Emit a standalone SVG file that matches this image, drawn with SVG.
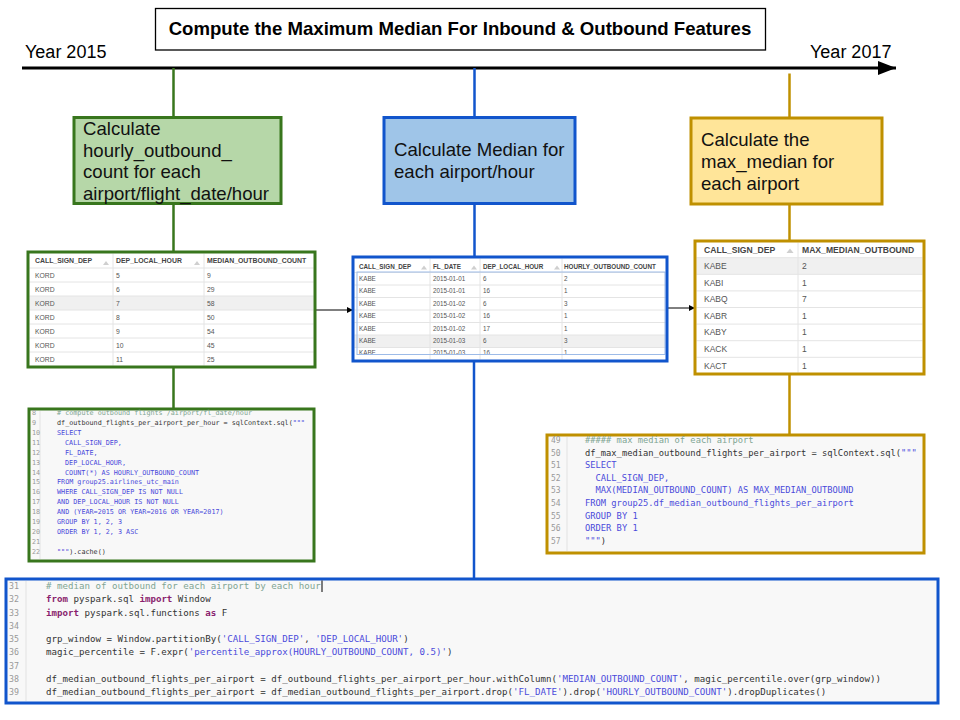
<svg xmlns="http://www.w3.org/2000/svg" width="960" height="720" viewBox="0 0 960 720">
<style>
.lbl{font-family:"Liberation Sans",Arial,sans-serif;fill:#000}
.node{font-family:"Liberation Sans",Arial,sans-serif;font-size:18.6px;fill:#111}
.th{font-family:"Liberation Sans",Arial,sans-serif;font-weight:bold;fill:#444}
.td{font-family:"Liberation Sans",Arial,sans-serif;fill:#555}
.sep{stroke:#e4e4e4;stroke-width:1}
.tri{fill:#cfcfcf}
.hl{fill:#f0f0f0}
.code{font-family:"DejaVu Sans Mono","Liberation Mono",monospace;fill:#333}
.ln{fill:#999}
.cm{fill:#7fa593}
.kw{fill:#4b4bdb}
.st{fill:#4b4bdb}
.py{fill:#8a1f6e;font-weight:bold}
.gut{stroke:#e2e2e2;stroke-width:1}
.g{stroke:#38761d}
.b{stroke:#1155cc}
.y{stroke:#bf9000}
</style>
<defs>
<marker id="bigarrow" markerUnits="userSpaceOnUse" markerWidth="20" markerHeight="16" refX="18" refY="7" orient="auto"><path d="M0,0 L18,7 L0,14 Z" fill="#000"/></marker>
<marker id="smallarrow" markerUnits="userSpaceOnUse" markerWidth="8" markerHeight="8" refX="6" refY="3" orient="auto"><path d="M0,0 L6,3 L0,6 Z" fill="#000"/></marker>
<clipPath id="c1"><rect x="29.5" y="253.5" width="284" height="112"/></clipPath>
<clipPath id="c2"><rect x="354.5" y="258.5" width="311" height="101"/></clipPath>
<clipPath id="c3"><rect x="696.5" y="242.5" width="226" height="130"/></clipPath>
</defs>
<rect width="960" height="720" fill="#fff"/>

<g id="connectors" fill="none">
<line x1="22" y1="68" x2="896" y2="68" stroke="#000" stroke-width="3" marker-end="url(#bigarrow)"/>
<line class="g" x1="173.5" y1="68" x2="173.5" y2="118" stroke-width="2.5"/>
<line class="g" x1="173.5" y1="204" x2="173.5" y2="252" stroke-width="2.5"/>
<line class="g" x1="173.5" y1="367" x2="173.5" y2="409" stroke-width="2.5"/>
<line class="b" x1="474.5" y1="68" x2="474.5" y2="118" stroke-width="2.5"/>
<line class="b" x1="474.5" y1="204" x2="474.5" y2="257" stroke-width="2.5"/>
<line class="b" x1="474" y1="361" x2="474" y2="579" stroke-width="2.5"/>
<line class="y" x1="789.5" y1="73.5" x2="789.5" y2="118" stroke-width="2.5"/>
<line class="y" x1="789.5" y1="204" x2="789.5" y2="241" stroke-width="2.5"/>
<line class="y" x1="789.5" y1="374" x2="789.5" y2="435" stroke-width="2.5"/>
<line x1="315" y1="310" x2="353" y2="310" stroke="#000" stroke-width="1" marker-end="url(#smallarrow)"/>
<line x1="667" y1="308" x2="695" y2="308" stroke="#000" stroke-width="1" marker-end="url(#smallarrow)"/>
</g>

<g id="title">
<rect x="155.5" y="8.5" width="610" height="41.5" fill="#fff" stroke="#000" stroke-width="1.3"/>
<text class="lbl" x="460" y="35" font-size="18.6" font-weight="bold" text-anchor="middle">Compute the Maximum Median For Inbound &amp; Outbound Features</text>
</g>
<g id="year-2015"><text class="lbl" x="25" y="58" font-size="18">Year 2015</text></g>
<g id="year-2017"><text class="lbl" x="810" y="58" font-size="18">Year 2017</text></g>

<g id="node-hourly-count">
<rect x="74" y="117.5" width="207" height="86" fill="#b6d7a8" stroke="#38761d" stroke-width="3"/>
<text class="node" x="83"><tspan x="83" y="134.5">Calculate</tspan><tspan x="83" y="156.5">hourly_outbound_</tspan><tspan x="83" y="178">count for each</tspan><tspan x="83" y="199.5">airport/flight_date/hour</tspan></text>
</g>
<g id="node-median">
<rect x="384" y="117.5" width="191" height="86" fill="#9fc5e8" stroke="#1155cc" stroke-width="3"/>
<text class="node"><tspan x="394" y="156">Calculate Median for</tspan><tspan x="394" y="178">each airport/hour</tspan></text>
</g>
<g id="node-max-median">
<rect x="691" y="118" width="191" height="86" fill="#ffe599" stroke="#bf9000" stroke-width="3"/>
<text class="node"><tspan x="701" y="146">Calculate the</tspan><tspan x="701" y="168">max_median for</tspan><tspan x="701" y="190">each airport</tspan></text>
</g>

<g id="table-median-outbound">
<rect x="28" y="252" width="287" height="115" fill="#fff"/>
<g clip-path="url(#c1)">
<rect class="hl" x="29" y="296" width="285" height="14"/>
<line class="sep" x1="29" y1="268" x2="314" y2="268"/>
<line class="sep" x1="29" y1="282" x2="314" y2="282"/>
<line class="sep" x1="29" y1="296" x2="314" y2="296"/>
<line class="sep" x1="29" y1="310" x2="314" y2="310"/>
<line class="sep" x1="29" y1="324" x2="314" y2="324"/>
<line class="sep" x1="29" y1="338" x2="314" y2="338"/>
<line class="sep" x1="29" y1="352" x2="314" y2="352"/>
<line class="sep" x1="113" y1="253" x2="113" y2="367"/>
<line class="sep" x1="204" y1="253" x2="204" y2="367"/>
<polygon class="tri" points="103,265 106,261 109,265"/>
<polygon class="tri" points="194,265 197,261 200,265"/>
<g class="th" font-size="6.9"><text x="35" y="263">CALL_SIGN_DEP</text><text x="116" y="263">DEP_LOCAL_HOUR</text><text x="207" y="263">MEDIAN_OUTBOUND_COUNT</text></g>
<g class="td" font-size="6.8">
<text x="35" y="278">KORD</text><text x="116" y="278">5</text><text x="207" y="278">9</text>
<text x="35" y="292">KORD</text><text x="116" y="292">6</text><text x="207" y="292">29</text>
<text x="35" y="306">KORD</text><text x="116" y="306">7</text><text x="207" y="306">58</text>
<text x="35" y="320">KORD</text><text x="116" y="320">8</text><text x="207" y="320">50</text>
<text x="35" y="334">KORD</text><text x="116" y="334">9</text><text x="207" y="334">54</text>
<text x="35" y="348">KORD</text><text x="116" y="348">10</text><text x="207" y="348">45</text>
<text x="35" y="362">KORD</text><text x="116" y="362">11</text><text x="207" y="362">25</text>
</g>
</g>
<rect x="28" y="252" width="287" height="115" fill="none" stroke="#38761d" stroke-width="3"/>
</g>

<g id="table-hourly-count">
<rect x="353" y="257" width="314" height="104" fill="#fff"/>
<g clip-path="url(#c2)">
<rect class="hl" x="354" y="335" width="312" height="12.4"/>
<line class="sep" x1="354" y1="272.5" x2="666" y2="272.5"/>
<line class="sep" x1="354" y1="285" x2="666" y2="285"/>
<line class="sep" x1="354" y1="297.5" x2="666" y2="297.5"/>
<line class="sep" x1="354" y1="310" x2="666" y2="310"/>
<line class="sep" x1="354" y1="322.5" x2="666" y2="322.5"/>
<line class="sep" x1="354" y1="335" x2="666" y2="335"/>
<line class="sep" x1="354" y1="347.5" x2="666" y2="347.5"/>
<line class="sep" x1="430" y1="258" x2="430" y2="361"/>
<line class="sep" x1="480" y1="258" x2="480" y2="361"/>
<line class="sep" x1="562" y1="258" x2="562" y2="361"/>
<polygon class="tri" points="421,269.5 424,265.5 427,269.5"/>
<polygon class="tri" points="471,269.5 474,265.5 477,269.5"/>
<polygon class="tri" points="554,269.5 557,265.5 560,269.5"/>
<g class="th" font-size="6.3"><text x="359" y="268.5">CALL_SIGN_DEP</text><text x="433" y="268.5">FL_DATE</text><text x="483" y="268.5">DEP_LOCAL_HOUR</text><text x="564" y="268.5">HOURLY_OUTBOUND_COUNT</text></g>
<g class="td" font-size="6.3">
<text x="359" y="281">KABE</text><text x="433" y="281">2015-01-01</text><text x="483" y="281">6</text><text x="564" y="281">2</text>
<text x="359" y="293.4">KABE</text><text x="433" y="293.4">2015-01-01</text><text x="483" y="293.4">16</text><text x="564" y="293.4">1</text>
<text x="359" y="305.8">KABE</text><text x="433" y="305.8">2015-01-02</text><text x="483" y="305.8">6</text><text x="564" y="305.8">3</text>
<text x="359" y="318.2">KABE</text><text x="433" y="318.2">2015-01-02</text><text x="483" y="318.2">16</text><text x="564" y="318.2">1</text>
<text x="359" y="330.6">KABE</text><text x="433" y="330.6">2015-01-02</text><text x="483" y="330.6">17</text><text x="564" y="330.6">1</text>
<text x="359" y="343">KABE</text><text x="433" y="343">2015-01-03</text><text x="483" y="343">6</text><text x="564" y="343">3</text>
<text x="359" y="355.4">KABE</text><text x="433" y="355.4">2015-01-03</text><text x="483" y="355.4">16</text><text x="564" y="355.4">1</text>
</g>
<rect x="357" y="272" width="308" height="82.5" fill="none" stroke="#9dbbe8" stroke-width="1"/>
</g>
<rect x="353" y="257" width="314" height="104" fill="none" stroke="#1155cc" stroke-width="3"/>
</g>

<g id="table-max-median">
<rect x="695" y="241" width="229" height="133" fill="#fff"/>
<g clip-path="url(#c3)">
<rect class="hl" x="696" y="257.7" width="227" height="16.6"/>
<line class="sep" x1="696" y1="257.7" x2="923" y2="257.7"/>
<line class="sep" x1="696" y1="274.3" x2="923" y2="274.3"/>
<line class="sep" x1="696" y1="290.9" x2="923" y2="290.9"/>
<line class="sep" x1="696" y1="307.5" x2="923" y2="307.5"/>
<line class="sep" x1="696" y1="324.1" x2="923" y2="324.1"/>
<line class="sep" x1="696" y1="340.7" x2="923" y2="340.7"/>
<line class="sep" x1="696" y1="357.3" x2="923" y2="357.3"/>
<line class="sep" x1="798" y1="242" x2="798" y2="374"/>
<polygon class="tri" points="786.5,253 790,248.5 793.5,253"/>
<g class="th" font-size="8.6"><text x="704" y="252.5">CALL_SIGN_DEP</text><text x="802" y="252.5">MAX_MEDIAN_OUTBOUND</text></g>
<g class="td" font-size="8.5">
<text x="704" y="269">KABE</text><text x="802" y="269">2</text>
<text x="704" y="285.6">KABI</text><text x="802" y="285.6">1</text>
<text x="704" y="302.2">KABQ</text><text x="802" y="302.2">7</text>
<text x="704" y="318.8">KABR</text><text x="802" y="318.8">1</text>
<text x="704" y="335.4">KABY</text><text x="802" y="335.4">1</text>
<text x="704" y="352">KACK</text><text x="802" y="352">1</text>
<text x="704" y="368.6">KACT</text><text x="802" y="368.6">1</text>
</g>
</g>
<rect x="695" y="241" width="229" height="133" fill="none" stroke="#bf9000" stroke-width="3"/>
</g>

<g id="code-hourly-count">
<rect x="29" y="409" width="285" height="152" fill="#f8f8f8" stroke="#38761d" stroke-width="3"/>
<line class="gut" x1="40" y1="411" x2="40" y2="559"/>
<g class="code" font-size="6.75" xml:space="preserve">
<text class="ln" x="32" y="415">8</text><text class="ln" x="32" y="424.9">9</text><text class="ln" x="32" y="434.8">10</text><text class="ln" x="32" y="444.8">11</text><text class="ln" x="32" y="454.7">12</text><text class="ln" x="32" y="464.6">13</text><text class="ln" x="32" y="474.5">14</text><text class="ln" x="32" y="484.4">15</text><text class="ln" x="32" y="494.4">16</text><text class="ln" x="32" y="504.3">17</text><text class="ln" x="32" y="514.2">18</text><text class="ln" x="32" y="524.1">19</text><text class="ln" x="32" y="534">20</text><text class="ln" x="32" y="544">21</text><text class="ln" x="32" y="553.9">22</text>
<text class="cm" x="57" y="415"># compute outbound flights /airport/fl_date/hour</text>
<text x="57" y="424.9">df_outbound_flights_per_airport_per_hour = sqlContext.sql(<tspan class="st">"""</tspan></text>
<text class="kw" x="57" y="434.8">SELECT</text>
<text class="kw" x="65" y="444.8">CALL_SIGN_DEP,</text>
<text class="kw" x="65" y="454.7">FL_DATE,</text>
<text class="kw" x="65" y="464.6">DEP_LOCAL_HOUR,</text>
<text class="kw" x="65" y="474.5">COUNT(*) AS HOURLY_OUTBOUND_COUNT</text>
<text class="kw" x="57" y="484.4">FROM group25.airlines_utc_main</text>
<text class="kw" x="57" y="494.4">WHERE CALL_SIGN_DEP IS NOT NULL</text>
<text class="kw" x="57" y="504.3">AND DEP_LOCAL_HOUR IS NOT NULL</text>
<text class="kw" x="57" y="514.2">AND (YEAR=2015 OR YEAR=2016 OR YEAR=2017)</text>
<text class="kw" x="57" y="524.1">GROUP BY 1, 2, 3</text>
<text class="kw" x="57" y="534">ORDER BY 1, 2, 3 ASC</text>
<text x="57" y="553.9"><tspan class="st">"""</tspan>).cache()</text>
</g>
</g>

<g id="code-max-median">
<rect x="547" y="435" width="377" height="118" fill="#f8f8f8" stroke="#bf9000" stroke-width="3"/>
<line class="gut" x1="567" y1="437" x2="567" y2="551"/>
<g class="code" font-size="8.75" xml:space="preserve">
<text class="ln" x="551" y="443" font-size="8">49</text><text class="ln" x="551" y="455.6" font-size="8">50</text><text class="ln" x="551" y="468.2" font-size="8">51</text><text class="ln" x="551" y="480.8" font-size="8">52</text><text class="ln" x="551" y="493.4" font-size="8">53</text><text class="ln" x="551" y="506" font-size="8">54</text><text class="ln" x="551" y="518.6" font-size="8">55</text><text class="ln" x="551" y="531.2" font-size="8">56</text><text class="ln" x="551" y="543.8" font-size="8">57</text>
<text class="cm" x="585" y="443">##### max median of each airport</text>
<text x="585" y="455.6">df_max_median_outbound_flights_per_airport = sqlContext.sql(<tspan class="st">"""</tspan></text>
<text class="kw" x="585" y="468.2">SELECT</text>
<text class="kw" x="595.5" y="480.8">CALL_SIGN_DEP,</text>
<text class="kw" x="595.5" y="493.4">MAX(MEDIAN_OUTBOUND_COUNT) AS MAX_MEDIAN_OUTBOUND</text>
<text class="kw" x="585" y="506">FROM group25.df_median_outbound_flights_per_airport</text>
<text class="kw" x="585" y="518.6">GROUP BY 1</text>
<text class="kw" x="585" y="531.2">ORDER BY 1</text>
<text x="585" y="543.8"><tspan class="st">"""</tspan>)</text>
</g>
</g>

<g id="code-median">
<rect x="6" y="579" width="932" height="124" fill="#f8f8f8" stroke="#1155cc" stroke-width="3"/>
<line class="gut" x1="26" y1="581" x2="26" y2="701"/>
<line x1="322" y1="580.5" x2="322" y2="592" stroke="#000" stroke-width="1"/>
<g class="code" font-size="9.14" xml:space="preserve">
<text class="ln" x="9" y="589" font-size="8.3">31</text><text class="ln" x="9" y="602.3" font-size="8.3">32</text><text class="ln" x="9" y="615.5" font-size="8.3">33</text><text class="ln" x="9" y="628.8" font-size="8.3">34</text><text class="ln" x="9" y="642" font-size="8.3">35</text><text class="ln" x="9" y="655.3" font-size="8.3">36</text><text class="ln" x="9" y="668.5" font-size="8.3">37</text><text class="ln" x="9" y="681.8" font-size="8.3">38</text><text class="ln" x="9" y="695" font-size="8.3">39</text>
<text class="cm" x="46" y="589"># median of outbound for each airport by each hour</text>
<text x="46" y="602.3"><tspan class="py">from</tspan> pyspark.sql <tspan class="py">import</tspan> Window</text>
<text x="46" y="615.5"><tspan class="py">import</tspan> pyspark.sql.functions <tspan class="py">as</tspan> F</text>
<text x="46" y="642">grp_window = Window.partitionBy(<tspan class="st">'CALL_SIGN_DEP'</tspan>, <tspan class="st">'DEP_LOCAL_HOUR'</tspan>)</text>
<text x="46" y="655.3">magic_percentile = F.expr(<tspan class="st">'percentile_approx(HOURLY_OUTBOUND_COUNT, 0.5)'</tspan>)</text>
<text x="46" y="681.8">df_median_outbound_flights_per_airport = df_outbound_flights_per_airport_per_hour.withColumn(<tspan class="st">'MEDIAN_OUTBOUND_COUNT'</tspan>, magic_percentile.over(grp_window))</text>
<text x="46" y="695">df_median_outbound_flights_per_airport = df_median_outbound_flights_per_airport.drop(<tspan class="st">'FL_DATE'</tspan>).drop(<tspan class="st">'HOURLY_OUTBOUND_COUNT'</tspan>).dropDuplicates()</text>
</g>
</g>
</svg>
